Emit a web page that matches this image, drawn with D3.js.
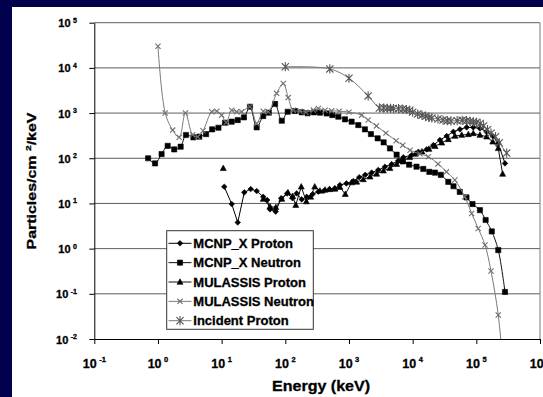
<!DOCTYPE html>
<html>
<head>
<meta charset="utf-8">
<script src="https://cdn.jsdelivr.net/npm/d3@7"></script>
<style>
  html, body { margin: 0; padding: 0; background: #00004e; overflow: hidden; }
  svg { display: block; }
  text { font-family: "Liberation Sans", Arial, sans-serif; font-weight: bold; fill: #000; stroke: #000; stroke-width: 0.3px; }
</style>
</head>
<body>
<svg id="chart" width="543" height="397"></svg>
<script>
// Decade exponents used for the tick labels
const xTickExp = [-1, 0, 1, 2, 3, 4, 5, 6];
const yTickExp = [-2, -1, 0, 1, 2, 3, 4, 5];

// Energy (keV) and flux (particles/cm^2/keV) for each spectrum
const mcnpProtonE = [11, 14.4, 17.9, 22.7, 28.6, 35.5, 45, 52, 57.5, 70.6, 86, 107, 130, 151, 181, 217, 269, 330, 405, 490, 600, 720, 910, 1170, 1450, 1800, 2270, 2880, 3670, 4680, 5940, 7130, 9660, 12300, 16600, 21100, 26800, 34200, 43600, 55300, 70500, 89500, 114000, 145000, 181000, 221000, 282000];
const mcnpProtonV = [23.4, 9.7, 3.8, 17.6, 20.8, 18.8, 14, 11.9, 7.4, 6.6, 13, 16.7, 13, 16.7, 12.3, 14, 16.1, 18.2, 19.1, 20.6, 21.6, 25.5, 27.8, 31.3, 38, 43, 48, 55, 65, 74, 88, 105, 118, 139, 157, 195, 253, 310, 386, 436, 483, 483, 458, 386, 310, 214, 77];

const mcnpNeutronE = [0.70, 0.90, 1.14, 1.42, 1.8, 2.27, 2.75, 3.6, 4.45, 5.7, 7.1, 8.9, 11.3, 14.4, 17.9, 22.4, 27.9, 35.5, 45, 55, 69, 88, 109, 142, 181, 224, 282, 350, 446, 547, 680, 865, 1100, 1400, 1780, 2210, 2820, 3500, 4400, 5600, 7000, 8800, 11500, 14700, 18300, 22400, 27700, 36300, 43800, 55000, 70000, 87000, 114000, 140000, 175000, 221000, 282000];
const mcnpNeutronV = [100, 77, 124, 188, 157, 180, 327, 290, 300, 343, 436, 473, 611, 645, 701, 804, 1380, 483, 860, 1020, 1590, 676, 1070, 1110, 1040, 990, 1040, 1020, 980, 904, 830, 727, 645, 543, 436, 343, 276, 225, 165, 120, 85, 72, 65, 58, 50, 48, 43, 30, 24, 18, 13.6, 9.7, 7.1, 4.3, 2.4, 0.93, 0.11];

const mulassisProtonE = [10.6, 13, 45, 57.5, 71, 88, 110, 130, 146, 178, 214, 250, 290, 350, 420, 500, 600, 720, 875, 1100, 1320, 1680, 2140, 2720, 3460, 4400, 5600, 7130, 9000, 11000, 14000, 18000, 22500, 28600, 36300, 46200, 59000, 74800, 89500, 114000, 145000, 181000, 221000, 259000];
const mulassisProtonV = [60, null, 12.5, 8.5, 8.2, 12.5, 17.4, 14.5, 9.2, 23.4, 11, 14, 23.4, 19, 20, 20.5, 21, 23, 16, 29, 30, 34, 39, 45, 53, 60, 74, 88, 105, 125, 140, 160, 185, 220, 262, 310, 326, 338, 356, 326, 300, 232, 166, 45];

const mulassisNeutronE = [1, 1.3, 1.7, 2.15, 2.7, 3.5, 4.2, 5.1, 7, 8.4, 10, 11.8, 14.4, 17.2, 20.6, 28, 35.5, 45, 54, 73, 93, 111, 133, 170, 210, 275, 330, 420, 535, 700, 1000, 1580, 2000, 2700, 3800, 5500, 7000, 9100, 13000, 17600, 25000, 34000, 46000, 66000, 84500, 107000, 137000, 170000, 221000, 260000];
const mulassisNeutronV = [30000, 1000, 420, 290, 1000, 330, 300, 405, 1070, 1100, 900, 620, 1150, 1070, 1070, 1380, 590, 1100, 1070, 2730, 4500, 2200, 1150, 1100, 1050, 1170, 1260, 1150, 1120, 1100, 1050, 900, 700, 520, 360, 245, 195, 150, 125, 108, 75, 50, 33, 14, 6, 2.8, 1.2, 0.32, 0.034, 0.003];

const incidentProtonE = [100, 500, 1000, 2000, 3000, 3500, 4000, 4500, 5000, 6000, 7000, 8000, 9000, 10000, 12000, 14000, 16000, 18000, 20000, 25000, 30000, 35000, 40000, 50000, 60000, 70000, 80000, 90000, 100000, 115000, 130000, 150000, 170000, 200000, 230000, 300000];
const incidentProtonV = [10600, 9500, 5900, 2400, 1300, 1290, 1280, 1270, 1260, 1250, 1230, 1200, 1150, 1050, 950, 900, 850, 800, 780, 740, 700, 680, 670, 680, 690, 680, 660, 640, 620, 590, 520, 430, 360, 300, 220, 130];

const seriesNames = ["MCNP_X Proton", "MCNP_X Neutron", "MULASSIS Proton", "MULASSIS Neutron", "Incident Proton"];

// ---- layout ----
const svg = d3.select("#chart");
const W = 543, H = 397;
const plot = { left: 94.3, right: 540, top: 22.7, bottom: 339 };

const x = d3.scaleLog().domain([0.1, 1e6]).range([plot.left, plot.right]);
const y = d3.scaleLog().domain([0.01, 1e5]).range([plot.bottom, plot.top]);

// white slide panel
svg.append("rect").attr("x", 12).attr("y", 7).attr("width", W - 12).attr("height", H - 7).attr("fill", "#fff");

// horizontal gridlines
svg.append("g")
  .selectAll("line")
  .data(yTickExp.filter(e => e > -2))
  .join("line")
  .attr("x1", plot.left).attr("x2", plot.right)
  .attr("y1", e => y(Math.pow(10, e))).attr("y2", e => y(Math.pow(10, e)))
  .attr("stroke", "#5e5e5e").attr("stroke-width", 1);

// right border of the plot area
svg.append("line")
  .attr("x1", plot.right).attr("x2", plot.right)
  .attr("y1", plot.top).attr("y2", plot.bottom)
  .attr("stroke", "#7a7a7a");

// axes (ticks only; labels are drawn with superscripts below)
const xAxis = d3.axisBottom(x)
  .tickValues(xTickExp.map(e => Math.pow(10, e)))
  .tickSize(5).tickSizeOuter(0).tickFormat("");
const yAxis = d3.axisLeft(y)
  .tickValues(yTickExp.map(e => Math.pow(10, e)))
  .tickSize(5).tickSizeOuter(0).tickFormat("");

svg.append("g").attr("transform", `translate(0,${plot.bottom})`).call(xAxis)
  .call(g => g.selectAll("path,line").attr("stroke", "#000"));
svg.append("g").attr("transform", `translate(${plot.left},0)`).call(yAxis)
  .call(g => g.selectAll("path,line").attr("stroke", "#000"));

// x tick labels: 10^n
const xl = svg.append("g").selectAll("text")
  .data(xTickExp).join("text")
  .attr("x", e => x(Math.pow(10, e)))
  .attr("y", 368)
  .attr("text-anchor", "middle")
  .style("font-size", "12.5px");
xl.append("tspan").text("10");
xl.append("tspan").attr("dx", 2.5).attr("dy", -6.5).style("font-size", "7.5px").text(e => String(e));

// y tick labels: 10^n
const yl = svg.append("g").selectAll("text")
  .data(yTickExp).join("text")
  .attr("x", 77)
  .attr("y", e => y(Math.pow(10, e)) + 4.5)
  .attr("text-anchor", "end")
  .style("font-size", "11px");
yl.append("tspan").text("10");
yl.append("tspan").attr("dx", 2.5).attr("dy", -4.5).style("font-size", "7px").text(e => String(e));

// axis titles
const yt = svg.append("text")
  .attr("transform", "translate(36,181) rotate(-90)")
  .attr("text-anchor", "middle")
  .attr("textLength", 137).attr("lengthAdjust", "spacingAndGlyphs")
  .style("font-size", "12.5px");
yt.append("tspan").text("Particles/cm ");
yt.append("tspan").attr("dy", -5).style("font-size", "8px").text("2");
yt.append("tspan").attr("dy", 5).text("/keV");

svg.append("text")
  .attr("x", 321).attr("y", 391)
  .attr("text-anchor", "middle")
  .attr("textLength", 98).attr("lengthAdjust", "spacingAndGlyphs")
  .style("font-size", "14px")
  .text("Energy (keV)");

// ---- markers ----
const markerShapes = {
  diamond: { d: "M0,-2.8L2.8,0L0,2.8L-2.8,0Z", filled: true },
  square: { d: "M-2.6,-2.6H2.6V2.6H-2.6Z", filled: true },
  triangle: { d: "M0,-3.2L3,2.3L-3,2.3Z", filled: true },
  cross: { d: "M-2.6,-2.6L2.6,2.6M-2.6,2.6L2.6,-2.6", filled: false },
  asterisk: { d: "M-3.6,-3.6L3.6,3.6M-3.6,3.6L3.6,-3.6M0,-4.6V4.6", filled: false }
};

const series = [
  { name: seriesNames[0], E: mcnpProtonE, V: mcnpProtonV, line: "#000", mark: "diamond", mcol: "#000", curve: d3.curveLinear },
  { name: seriesNames[1], E: mcnpNeutronE, V: mcnpNeutronV, line: "#111", mark: "square", mcol: "#000", curve: d3.curveCatmullRom.alpha(0.5) },
  { name: seriesNames[2], E: mulassisProtonE, V: mulassisProtonV, line: "#111", mark: "triangle", mcol: "#000", curve: d3.curveLinear },
  { name: seriesNames[3], E: mulassisNeutronE, V: mulassisNeutronV, line: "#7a7a7a", mark: "cross", mcol: "#707070", curve: d3.curveCatmullRom.alpha(0.5) },
  { name: seriesNames[4], E: incidentProtonE, V: incidentProtonV, line: "#7a7a7a", mark: "asterisk", mcol: "#555", curve: d3.curveCatmullRom.alpha(0.5) }
];

function drawMarker(sel, s) {
  const m = markerShapes[s.mark];
  sel.attr("d", m.d)
    .attr("fill", m.filled ? s.mcol : "none")
    .attr("stroke", s.mcol)
    .attr("stroke-width", m.filled ? 0.6 : 1.1);
}

svg.append("clipPath").attr("id", "plotClip")
  .append("rect").attr("x", plot.left).attr("y", plot.top - 6)
  .attr("width", plot.right - plot.left + 8).attr("height", plot.bottom - plot.top + 6);

const dataLayer = svg.append("g").attr("clip-path", "url(#plotClip)");

series.forEach(s => {
  const pts = s.E.map((e, i) => ({ e: e, v: s.V[i] }));
  const line = d3.line()
    .defined(d => d.v != null)
    .x(d => x(d.e)).y(d => y(d.v))
    .curve(s.curve);
  dataLayer.append("path")
    .attr("d", line(pts))
    .attr("fill", "none")
    .attr("stroke", s.line)
    .attr("stroke-width", 1);
  dataLayer.append("g").selectAll("path")
    .data(pts.filter(d => d.v != null))
    .join("path")
    .attr("transform", d => `translate(${x(d.e)},${y(d.v)})`)
    .call(drawMarker, s);
});

// ---- legend ----
const lg = svg.append("g");
lg.append("rect")
  .attr("x", 166.7).attr("y", 230.7)
  .attr("width", 146.6).attr("height", 98.6)
  .attr("fill", "#fff").attr("stroke", "#333").attr("stroke-width", 1);

const rows = lg.selectAll("g.row").data(series).join("g")
  .attr("class", "row")
  .attr("transform", (d, i) => `translate(0,${243.3 + i * 19.35})`);
rows.append("line")
  .attr("x1", 168.5).attr("x2", 191.5).attr("y1", 0).attr("y2", 0)
  .attr("stroke", d => d.line).attr("stroke-width", 1);
rows.each(function (s) {
  d3.select(this).append("path")
    .attr("transform", "translate(180,0)")
    .call(drawMarker, s);
});
rows.append("text")
  .attr("x", 193.3).attr("y", 4.6)
  .style("font-size", "13px")
  .text(d => d.name);
</script>
</body>
</html>
